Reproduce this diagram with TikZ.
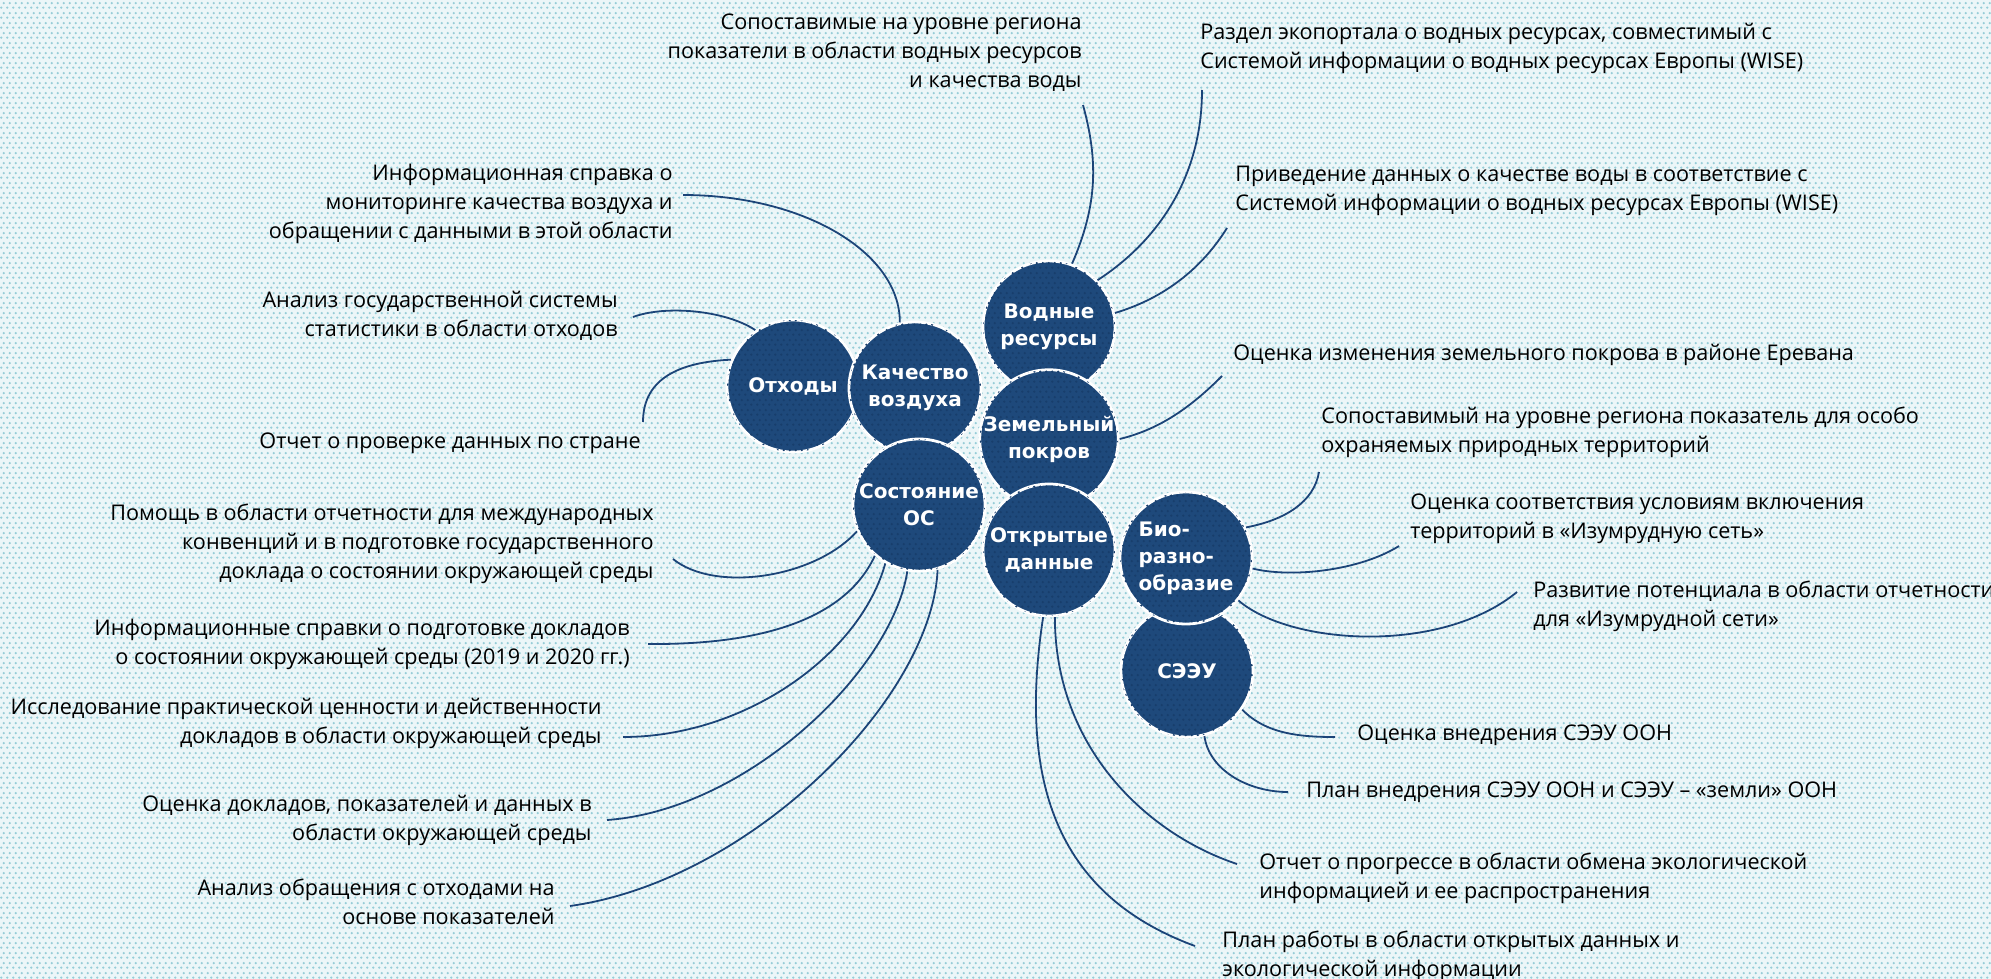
\documentclass[tikz,border=0pt]{standalone}
\usepackage{fontspec}
\setmainfont{Open Sans}
\newfontfamily\circfont{DejaVu Sans}
\usetikzlibrary{patterns}
\pgfdeclarepatternformonly{bgdots}{\pgfqpoint{0pt}{0pt}}{\pgfqpoint{2.75pt}{4.76pt}}{\pgfqpoint{2.75pt}{4.76pt}}{%
  \pgfpathcircle{\pgfqpoint{0.69pt}{0.69pt}}{0.68pt}%
  \pgfpathcircle{\pgfqpoint{2.06pt}{3.07pt}}{0.68pt}%
  \pgfusepath{fill}}
\definecolor{bgc}{RGB}{236,246,248}
\definecolor{dotc}{RGB}{150,205,215}
\definecolor{circc}{RGB}{30,73,123}
\definecolor{circdot}{RGB}{24,62,108}
\definecolor{linec}{RGB}{28,68,120}
\begin{document}
\begin{tikzpicture}[x=0.5pt,y=-0.5pt,
  bub/.style={circle, minimum size=66pt, inner sep=0pt, fill=circc, draw=white, line width=1.4pt,
    text=white, font=\circfont\bfseries\fontsize{10pt}{13.5pt}\selectfont, align=center,
    postaction={pattern=bgdots, pattern color=circdot}},
  lab/.style={inner sep=0pt, font=\fontsize{10.8pt}{14.5pt}\selectfont, text=black},
  labL/.style={lab, anchor=north east, align=right},
  labR/.style={lab, anchor=north west, align=left},
  conn/.style={draw=linec, line width=0.9pt}]
\useasboundingbox (0,0) rectangle (1991,979);
\fill[bgc] (0,0) rectangle (1991,979);
\fill[pattern=bgdots, pattern color=dotc] (0,0) rectangle (1991,979);

% circles
\node[bub] (A) at (793,386) {Отходы};
\node[bub] (B) at (915,388) {Качество\\воздуха};
\node[bub] (E) at (919,505) {Состояние\\ОС};
\node[bub] (C) at (1049,327) {Водные\\ресурсы};
\node[bub] (D) at (1049,439) {Земельный\\покров};
\node[bub] (F) at (1049,550) {Открытые\\данные};
\node[bub] (H) at (1187,671) {СЭЭУ};
\node[bub, align=left] (G) at (1186,558) {Био-\\разно-\\образие};

% labels
\node[labL] (L1) at (673,164) {Информационная справка о\\мониторинге качества воздуха и\\обращении с данными в этой области};
\node[labL] (L2) at (618,291) {Анализ государственной системы\\статистики в области отходов};
\node[labL] (L3) at (641,432) {Отчет о проверке данных по стране};
\node[labL] (L4) at (654,504) {Помощь в области отчетности для международных\\конвенций и в подготовке государственного\\доклада о состоянии окружающей среды};
\node[labL] (L5) at (630,619) {Информационные справки о подготовке докладов\\о состоянии окружающей среды (2019 и 2020 гг.)};
\node[labL] (L6) at (602,698) {Исследование практической ценности и действенности\\докладов в области окружающей среды};
\node[labL] (L7) at (592,795) {Оценка докладов, показателей и данных в\\области окружающей среды};
\node[labL] (L8) at (555,879) {Анализ обращения с отходами на\\основе показателей};
\node[labL] (T) at (1082,13) {Сопоставимые на уровне региона\\показатели в области водных ресурсов\hspace*{-17pt}\\и качества воды};
\node[labR] (R1) at (1200,23) {Раздел экопортала о водных ресурсах, совместимый с\\Системой информации о водных ресурсах Европы (WISE)};
\node[labR] (R2) at (1235,166) {Приведение данных о качестве воды в соответствие с\\Системой информации о водных ресурсах Европы (WISE)};
\node[labR] (R3) at (1233,344) {Оценка изменения земельного покрова в районе Еревана};
\node[labR] (R4) at (1321,407) {Сопоставимый на уровне региона показатель для особо\\охраняемых природных территорий};
\node[labR] (R5) at (1410,493) {Оценка соответствия условиям включения\\территорий в «Изумрудную сеть»};
\node[labR] (R6) at (1533,581) {Развитие потенциала в области отчетности\\для «Изумрудной сети»};
\node[labR] (R7) at (1357,724) {Оценка внедрения СЭЭУ ООН};
\node[labR] (R8) at (1306,781) {План внедрения СЭЭУ ООН и СЭЭУ – «земли» ООН};
\node[labR] (R9) at (1259,853) {Отчет о прогрессе в области обмена экологической\\информацией и ее распространения};
\node[labR] (R10) at (1222,931) {План работы в области открытых данных и\\экологической информации};

% connector free ends
\coordinate (eL1) at (683,195);
\coordinate (eL2) at (633,317);
\coordinate (eL3) at (643,422);
\coordinate (eL4) at (673,559);
\coordinate (eL5) at (648,644);
\coordinate (eL6) at (623,737);
\coordinate (eL7) at (607,820);
\coordinate (eL8) at (570,906);
\coordinate (eT) at (1083,105);
\coordinate (eR1) at (1202,90);
\coordinate (eR2) at (1227,228);
\coordinate (eR3) at (1222,376);
\coordinate (eR4) at (1319,472);
\coordinate (eR5) at (1399,546);
\coordinate (eR6) at (1517,592);
\coordinate (eR7) at (1335,737);
\coordinate (eR8) at (1288,792);
\coordinate (eR9) at (1237,864);
\coordinate (eR10) at (1195,946);

% connectors
\draw[conn] (B.103) .. controls (900,252) and (803,195) .. (eL1);
\draw[conn] (A.124) .. controls (725,310) and (665,305) .. (eL2);
\draw[conn] (A.157) .. controls (682,362) and (643,377) .. (eL3);
\draw[conn] (C.70) .. controls (1098,204) and (1098,160) .. (eT);
\draw[conn] (C.44) .. controls (1155,243) and (1202,180) .. (eR1);
\draw[conn] (C.12) .. controls (1165,298) and (1202,268) .. (eR2);
\draw[conn] (D.0) .. controls (1161,429) and (1192,406) .. (eR3);
\draw[conn] (G.27) .. controls (1285,520) and (1314,502) .. (eR4);
\draw[conn] (G.-9) .. controls (1291,578) and (1359,571) .. (eR5);
\draw[conn] (G.321) .. controls (1290,645) and (1440,655) .. (eR6);
\draw[conn] (H.325) .. controls (1266,734) and (1300,737) .. (eR7);
\draw[conn] (H.285) .. controls (1209,770) and (1248,792) .. (eR8);
\draw[conn] (F.275) .. controls (1055,748) and (1147,834) .. (eR9);
\draw[conn] (F.265) .. controls (1015,800) and (1070,900) .. (eR10);
\draw[conn] (E.203) .. controls (815,578) and (715,593) .. (eL4);
\draw[conn] (E.229) .. controls (845,620) and (760,645) .. (eL5);
\draw[conn] (E.240) .. controls (860,655) and (745,737) .. (eL6);
\draw[conn] (E.260) .. controls (892,671) and (747,810) .. (eL7);
\draw[conn] (E.286) .. controls (932,699) and (750,881) .. (eL8);
\end{tikzpicture}
\end{document}
